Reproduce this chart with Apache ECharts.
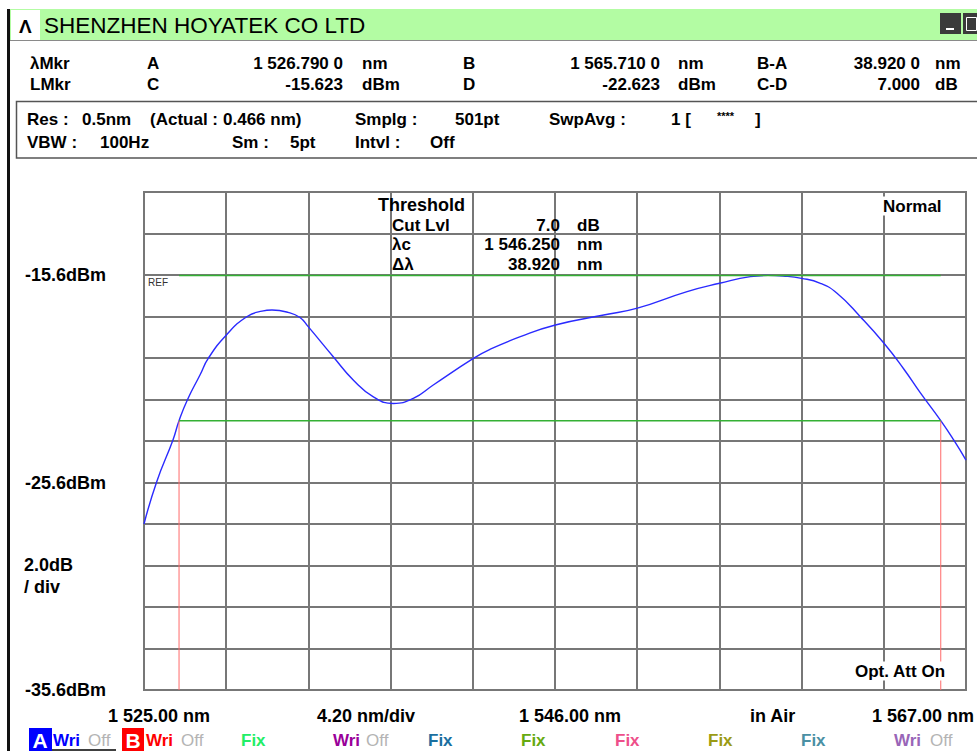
<!DOCTYPE html>
<html>
<head>
<meta charset="utf-8">
<title>OSA trace</title>
<script src="https://cdn.jsdelivr.net/npm/echarts@6/dist/echarts.min.js"></script>
<style>
  html, body { margin: 0; padding: 0; background: #fff; }
  #osa { width: 977px; height: 751px; }
</style>
</head>
<body>
<div id="osa"></div>
<script>
const wavelengthNm = [1525.00, 1525.65, 1526.48, 1526.79, 1527.22, 1527.86, 1528.29, 1529.21, 1530.25,
  1531.03, 1531.54, 1532.36, 1532.97, 1533.39, 1534.67, 1535.69, 1536.72, 1537.74,
  1538.76, 1539.78, 1541.83, 1542.68, 1544.23, 1546.02, 1548.49, 1550.21, 1552.75, 1554.41,
  1555.98, 1556.88, 1557.65, 1558.60, 1559.56, 1560.41, 1561.60, 1562.81, 1563.82, 1564.67,
  1565.71, 1566.37, 1567.00];
const levelDbm = [-27.60, -25.56, -23.55, -22.62, -21.61, -20.42, -19.61, -18.49, -17.61,
  -17.34, -17.29, -17.40, -17.65, -18.09, -19.54, -20.66, -21.47, -21.79,
  -21.55, -20.90, -19.62, -19.18, -18.57, -18.01, -17.53, -17.20, -16.40, -16.00,
  -15.68, -15.62, -15.65, -15.76, -16.00, -16.48, -17.61, -18.89, -20.13, -21.28,
  -22.62, -23.55, -24.52];

const markerWl = [1526.790, 1565.710];   // A, B
const markerLvl = [-15.623, -22.623];    // C, D
const cutLevel = 7.0;

const yLabelValues = [-15.6, -25.6, -35.6];
const yLabelText = ['-15.6dBm', '-25.6dBm', '-35.6dBm'];
const xLabelText = ['1 525.00 nm', '4.20 nm/div', '1 546.00 nm', 'in Air', '1 567.00 nm'];

const X_MIN = 1525, X_MAX = 1567, X_DIV = 4.2;
const Y_MIN = -35.6, Y_MAX = -11.6, Y_DIV = 2;

const FONT = '"Liberation Sans", Arial, sans-serif';

// 1526.7900 -> "1 526.790 0"
function fmtWl(v, dec) {
  const parts = v.toFixed(dec).split('.');
  const int = parts[0].replace(/\B(?=(\d{3})+(?!\d))/g, ' ');
  let frac = parts[1];
  if (frac.length > 3) frac = frac.slice(0, 3) + ' ' + frac.slice(3);
  return int + '.' + frac;
}

function txt(x, y, s, opt) {
  opt = opt || {};
  const align = opt.align || 'left';
  return {
    type: 'text', silent: true, z: opt.z || 100,
    style: {
      x: x, y: y, text: s,
      fill: opt.color || '#000',
      font: (opt.weight || 'bold') + ' ' + (opt.size || 17) + 'px ' + FONT,
      align: align, verticalAlign: 'middle',
      textAlign: align, textVerticalAlign: 'middle',
      backgroundColor: opt.bg, padding: opt.bg ? [1, 2] : 0
    }
  };
}

const chart = echarts.init(document.getElementById('osa'), null, { renderer: 'svg' });

const graphics = [];
// frame and title bar
graphics.push({ type: 'rect', silent: true, shape: { x: 7, y: 9, width: 3, height: 742 }, style: { fill: '#111' } });
graphics.push({ type: 'rect', silent: true, shape: { x: 10, y: 9, width: 967, height: 31 }, style: { fill: '#b3fca3' } });
graphics.push({ type: 'rect', silent: true, shape: { x: 11, y: 10, width: 29, height: 30 }, style: { fill: '#fff' } });
graphics.push(txt(19, 26, 'Λ', { size: 19 }));
graphics.push(txt(44, 25, 'SHENZHEN HOYATEK CO LTD', { size: 22.5, weight: 'normal' }));
graphics.push({ type: 'line', silent: true, shape: { x1: 10, y1: 40.5, x2: 977, y2: 40.5 }, style: { stroke: '#8a8a8a', lineWidth: 1 } });
graphics.push({ type: 'rect', silent: true, shape: { x: 940, y: 13, width: 21, height: 21 }, style: { fill: '#3a3a3a' } });
graphics.push({ type: 'rect', silent: true, shape: { x: 946, y: 28, width: 8, height: 2 }, style: { fill: '#fff' } });
graphics.push({ type: 'rect', silent: true, shape: { x: 963, y: 13, width: 14, height: 21 }, style: { fill: '#3a3a3a' } });
graphics.push({ type: 'rect', silent: true, shape: { x: 966.5, y: 17.5, width: 10, height: 13 }, style: { fill: 'none', stroke: '#fff', lineWidth: 1 } });

// marker table
const r1 = 63, r2 = 84;
graphics.push(txt(30, r1, 'λMkr'), txt(147, r1, 'A'), txt(343, r1, fmtWl(markerWl[0], 4), { align: 'right' }), txt(362, r1, 'nm'),
  txt(463, r1, 'B'), txt(660, r1, fmtWl(markerWl[1], 4), { align: 'right' }), txt(678, r1, 'nm'),
  txt(757, r1, 'B-A'), txt(920, r1, fmtWl(markerWl[1] - markerWl[0], 4), { align: 'right' }), txt(935, r1, 'nm'));
graphics.push(txt(30, r2, 'LMkr'), txt(147, r2, 'C'), txt(343, r2, markerLvl[0].toFixed(3), { align: 'right' }), txt(362, r2, 'dBm'),
  txt(463, r2, 'D'), txt(660, r2, markerLvl[1].toFixed(3), { align: 'right' }), txt(678, r2, 'dBm'),
  txt(757, r2, 'C-D'), txt(920, r2, (markerLvl[0] - markerLvl[1]).toFixed(3), { align: 'right' }), txt(935, r2, 'dB'));

// settings box
graphics.push({ type: 'rect', silent: true, shape: { x: 16.5, y: 101.5, width: 962, height: 56.5 }, style: { fill: 'none', stroke: '#555', lineWidth: 1.5 } });
const s1 = 119, s2 = 142;
graphics.push(txt(27, s1, 'Res :'), txt(82, s1, '0.5nm'), txt(150, s1, '(Actual :'), txt(223, s1, '0.466 nm)'),
  txt(355, s1, 'Smplg :'), txt(455, s1, '501pt'), txt(549, s1, 'SwpAvg :'), txt(671, s1, '1 ['),
  txt(717, s1 - 3, '****', { size: 11 }), txt(755, s1, ']'));
graphics.push(txt(27, s2, 'VBW :'), txt(100, s2, '100Hz'), txt(232, s2, 'Sm :'), txt(290, s2, '5pt'),
  txt(355, s2, 'Intvl :'), txt(430, s2, 'Off'));

// threshold analysis block
graphics.push(txt(378, 205, 'Threshold', { size: 18 }), txt(392, 225, 'Cut Lvl'), txt(560, 225, cutLevel.toFixed(1), { align: 'right' }), txt(577, 225, 'dB'),
  txt(392, 244, 'λc'), txt(560, 244, fmtWl((markerWl[0] + markerWl[1]) / 2, 3), { align: 'right' }), txt(577, 244, 'nm'),
  txt(392, 264, 'Δλ'), txt(560, 264, fmtWl(markerWl[1] - markerWl[0], 3), { align: 'right' }), txt(577, 264, 'nm'));
graphics.push(txt(881, 206, 'Normal', { bg: '#fff' }), txt(853, 671, 'Opt. Att On', { bg: '#fff' }));
graphics.push(txt(148, 282, 'REF', { size: 10, weight: 'normal', color: '#333' }));
graphics.push(txt(24, 565, '2.0dB', { size: 18 }), txt(24, 587, '/ div', { size: 18 }));

// x scale annotations
const xl = [108, 317, 519, 750, 872];
xLabelText.forEach((s, i) => graphics.push(txt(xl[i], 716, s, { size: 18 })));

// trace legend strip
const ly = 740;
graphics.push({ type: 'rect', silent: true, shape: { x: 29, y: 728, width: 23, height: 23 }, style: { fill: '#0000ff' } });
graphics.push(txt(40, ly, 'A', { color: '#fff', size: 21, align: 'center' }));
graphics.push(txt(53, ly, 'Wri', { color: '#0000ff' }), txt(88, ly, 'Off', { color: '#b4b4b4', weight: 'normal' }));
graphics.push({ type: 'line', silent: true, shape: { x1: 52, y1: 750, x2: 116, y2: 750 }, style: { stroke: '#000', lineWidth: 1.5 } });
graphics.push({ type: 'rect', silent: true, shape: { x: 122, y: 728, width: 22, height: 23 }, style: { fill: '#ff0000' } });
graphics.push(txt(133, ly, 'B', { color: '#fff', size: 21, align: 'center' }));
graphics.push(txt(146, ly, 'Wri', { color: '#ff0000' }), txt(181, ly, 'Off', { color: '#b4b4b4', weight: 'normal' }));
graphics.push(txt(241, ly, 'Fix', { color: '#22ee66' }));
graphics.push(txt(333, ly, 'Wri', { color: '#990099' }), txt(366, ly, 'Off', { color: '#b4b4b4', weight: 'normal' }));
graphics.push(txt(428, ly, 'Fix', { color: '#1a6fa0' }));
graphics.push(txt(521, ly, 'Fix', { color: '#66aa11' }));
graphics.push(txt(615, ly, 'Fix', { color: '#ee4f8a' }));
graphics.push(txt(708, ly, 'Fix', { color: '#9b9b14' }));
graphics.push(txt(801, ly, 'Fix', { color: '#4a90a4' }));
graphics.push(txt(894, ly, 'Wri', { color: '#9966b8' }), txt(930, ly, 'Off', { color: '#b4b4b4', weight: 'normal' }));

const trace = wavelengthNm.map((w, i) => [w, levelDbm[i]]);

chart.setOption({
  animation: false,
  backgroundColor: '#fff',
  grid: { left: 144, top: 192, width: 822, height: 498, show: true, borderColor: '#777', borderWidth: 2, backgroundColor: 'transparent' },
  xAxis: {
    type: 'value', min: X_MIN, max: X_MAX, interval: X_DIV,
    axisLine: { show: false }, axisTick: { show: false }, axisLabel: { show: false },
    splitLine: { lineStyle: { color: '#777', width: 2 } }
  },
  yAxis: {
    type: 'value', min: Y_MIN, max: Y_MAX, interval: Y_DIV,
    axisLine: { show: false }, axisTick: { show: false },
    axisLabel: {
      align: 'left', margin: 119, color: '#000', fontWeight: 'bold', fontSize: 18, fontFamily: FONT,
      formatter: v => {
        const k = yLabelValues.findIndex(t => Math.abs(t - v) < 1e-6);
        return k >= 0 ? yLabelText[k] : '';
      }
    },
    splitLine: { lineStyle: { color: '#777', width: 2 } }
  },
  series: [
    {
      name: 'Trace A', type: 'line', data: trace, smooth: 0.5, symbol: 'none', z: 3,
      lineStyle: { color: '#2a2aff', width: 1.4 }
    },
    {
      name: 'REF', type: 'line', data: [[markerWl[0], markerLvl[0]], [markerWl[1], markerLvl[0]]], symbol: 'none', z: 5,
      lineStyle: { color: '#34b034', width: 1.5 }
    },
    {
      name: 'Cut', type: 'line', data: [[markerWl[0], markerLvl[1]], [markerWl[1], markerLvl[1]]], symbol: 'none', z: 5,
      lineStyle: { color: '#34b034', width: 1.5 }
    },
    {
      name: 'Mkr A', type: 'line', data: [[markerWl[0], markerLvl[1]], [markerWl[0], Y_MIN]], symbol: 'none', z: 4,
      lineStyle: { color: '#ff6a6a', width: 1 }
    },
    {
      name: 'Mkr B', type: 'line', data: [[markerWl[1], markerLvl[1]], [markerWl[1], Y_MIN]], symbol: 'none', z: 4,
      lineStyle: { color: '#ff6a6a', width: 1 }
    }
  ],
  graphic: { elements: graphics }
});
</script>
</body>
</html>
